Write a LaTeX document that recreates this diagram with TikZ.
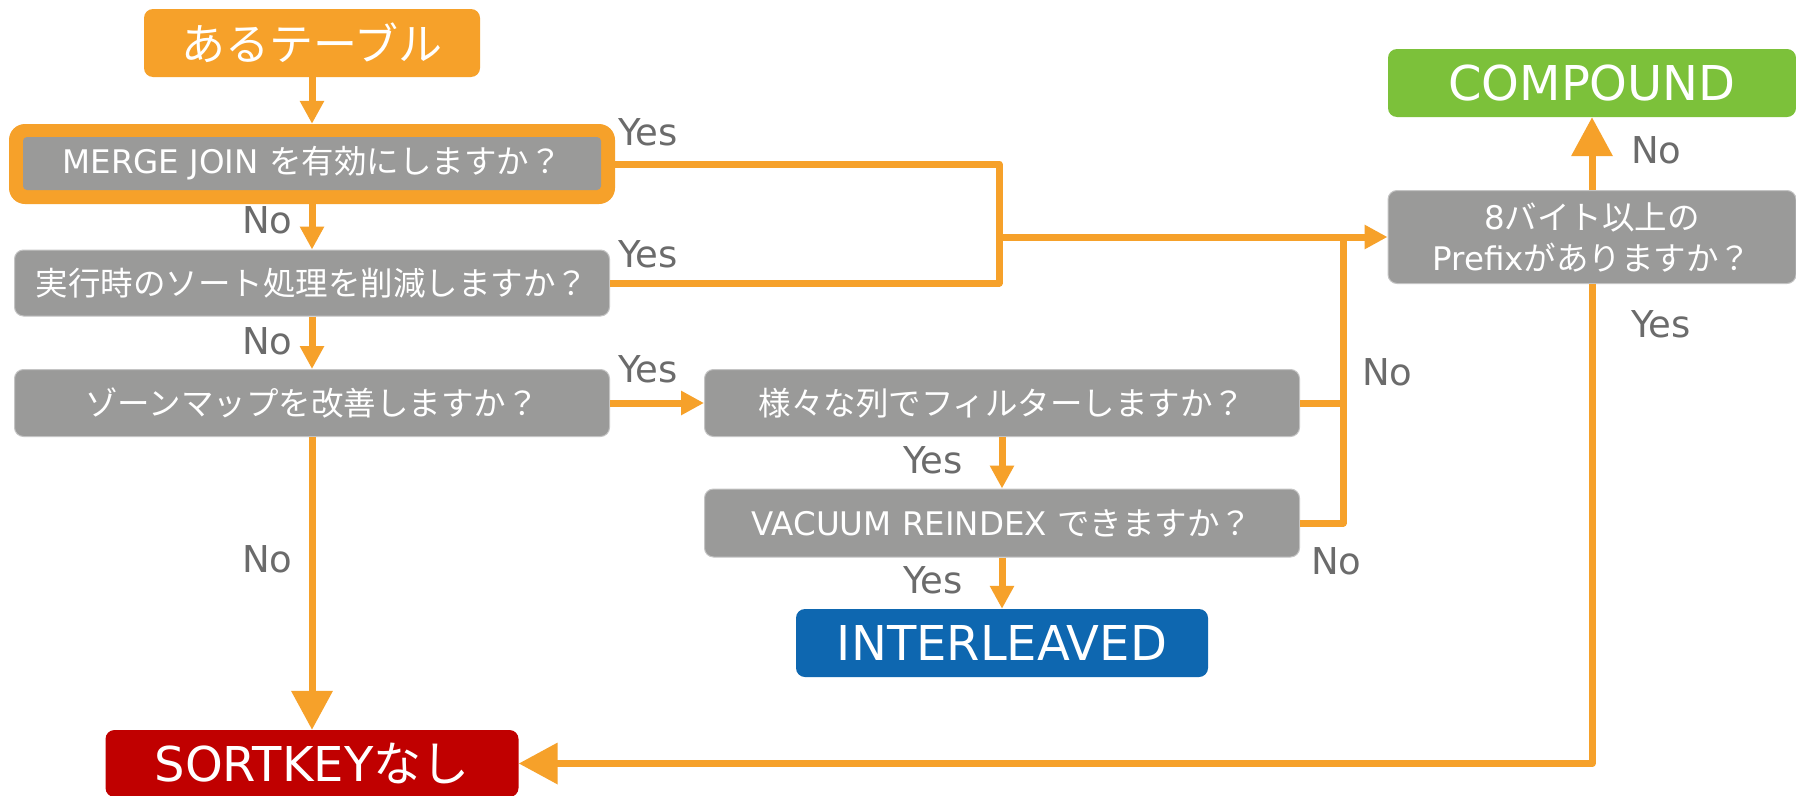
\documentclass[tikz,border=0pt]{standalone}
\usepackage{fontspec}
\setmainfont{DejaVu Sans}
\newfontfamily\jp{Noto Sans CJK JP}
\usetikzlibrary{arrows.meta}
\definecolor{org}{HTML}{F6A12A}
\definecolor{gbox}{HTML}{9A9A99}
\definecolor{gline}{HTML}{C4C4C4}
\definecolor{grn}{HTML}{7CC13A}
\definecolor{blu}{HTML}{0E67B0}
\definecolor{rd}{HTML}{C00000}
\definecolor{lbl}{HTML}{6B6B6B}
\begin{document}
\begin{tikzpicture}[x=1pt,y=-1pt,
  box/.style={rounded corners=9pt, inner sep=0pt, text=white, anchor=center},
  qbox/.style={box, fill=gbox, draw=gline, line width=1pt, font=\fontsize{32.5}{41}\selectfont},
  endbox/.style={box, font=\fontsize{48}{56}\selectfont},
  lab/.style={text=lbl, inner sep=0pt, anchor=west, font=\fontsize{37}{42}\selectfont},
  conn/.style={draw=org, line width=7pt, line join=round},
  sarr/.style={conn, -{Triangle[length=23pt,width=23pt]}},
  barr/.style={conn, -{Triangle[length=39pt,width=40pt]}}
]
\useasboundingbox (0,0) rectangle (1796,795);
\clip (0,0) rectangle (1796,795);
\fill[white] (0,0) rectangle (1796,795);

% nodes
\node[endbox, fill=org, minimum width=336pt, minimum height=68pt, font=\jp\fontsize{44}{50}\selectfont] (table) at (312,43) {あるテーブル};
\node[box, fill=org, minimum width=606pt, minimum height=80pt, rounded corners=16pt] (merge) at (312,164) {};
\node[qbox, draw=none, minimum width=578pt, minimum height=53pt, rounded corners=4pt] (mergein) at (312,163.5) {MERGE JOIN {\jp を有効にしますか？}};
\node[qbox, minimum width=595pt, minimum height=66pt] (q2) at (312,283) {{\jp 実行時のソート処理を削減しますか？}};
\node[qbox, minimum width=595pt, minimum height=67pt] (q3) at (312,403) {{\jp ゾーンマップを改善しますか？}};
\node[qbox, minimum width=595pt, minimum height=67pt] (q4) at (1002,403) {{\jp 様々な列でフィルターしますか？}};
\node[qbox, minimum width=595pt, minimum height=68pt] (q5) at (1002,523) {VACUUM REINDEX {\jp できますか？}};
\node[endbox, fill=blu, minimum width=412pt, minimum height=68pt] (inter) at (1002,643) {INTERLEAVED};
\node[qbox, minimum width=408pt, minimum height=93pt, align=center] (q6) at (1592,237) {8{\jp バイト以上の}\\Prefix{\jp がありますか？}};
\node[endbox, fill=grn, minimum width=408pt, minimum height=68pt] (comp) at (1592,83) {COMPOUND};
\node[endbox, fill=rd, minimum width=413pt, minimum height=67pt] (sort) at (312,763.5) {SORTKEY{\jp なし}};

% junctions
\coordinate (busL) at (999,237);
\coordinate (busR) at (1343,237);

% connectors
\draw[sarr] (table.south) -- (merge.north);
\draw[sarr] (merge.south) -- (q2.north);
\draw[sarr] (q2.south) -- (q3.north);
\draw[barr] (q3.south) -- (sort.north);
\draw[sarr] (q3.east) -- (q4.west);
\draw[sarr] (q4.south) -- (q5.north);
\draw[sarr] (q5.south) -- (inter.north);
\draw[conn] (merge.east) -| (busL) |- (q2.east);
\draw[sarr] (busL) -- (q6.west);
\draw[conn] (q4.east) -| (busR);
\draw[conn] (q5.east) -| (busR);
\draw[barr] (q6.north) -- (comp.south);
\draw[barr] (q6.south) |- (sort.east);

% labels
\node[lab] (y1) at (618,132) {Yes};
\node[lab] (y2) at (618,254) {Yes};
\node[lab] (y3) at (618,369) {Yes};
\node[lab] (n1) at (242,220) {No};
\node[lab] (n2) at (242,341) {No};
\node[lab] (n6) at (242,559) {No};
\node[lab] (y4) at (903,460) {Yes};
\node[lab] (y5) at (903,580) {Yes};
\node[lab] (n3) at (1362,372) {No};
\node[lab] (n4) at (1311,561) {No};
\node[lab] (n5) at (1631,150) {No};
\node[lab] (y6) at (1631,324) {Yes};
\end{tikzpicture}
\end{document}
